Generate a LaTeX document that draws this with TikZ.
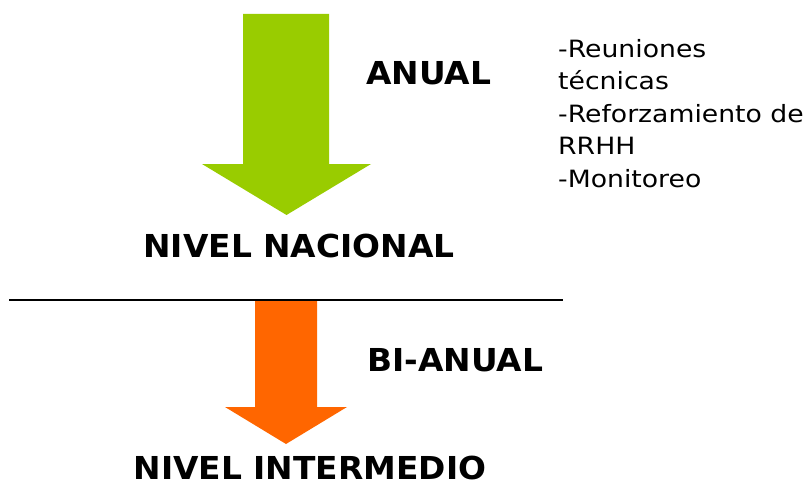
\documentclass[tikz,border=0pt]{standalone}
\usepackage{fontspec}
\newfontfamily\lblfont[FakeStretch=1.04]{DejaVu Sans Bold}
\newfontfamily\listfont[FakeStretch=1.12]{DejaVu Sans}
\definecolor{arrgreen}{HTML}{99CC00}
\definecolor{arrorange}{HTML}{FF6600}
\begin{document}
\begin{tikzpicture}[x=1pt,y=-1pt,
  biglabel/.style={inner sep=0pt,font=\lblfont\fontsize{31.6}{36}\selectfont},
  listitem/.style={inner sep=0pt,anchor=base west,font=\listfont\fontsize{23.8}{30}\selectfont}]
\useasboundingbox (0,0) rectangle (810,487);
% green arrow
\fill[arrgreen] (243,14) -- (329,14) -- (329,164) -- (371,164) -- (286.5,215) -- (202,164) -- (243,164) -- cycle;
% orange arrow
\fill[arrorange] (255,301) -- (317,301) -- (317,407) -- (347,407) -- (286,444) -- (225,407) -- (255,407) -- cycle;
% separator line
\coordinate (ls) at (9,300);
\coordinate (le) at (563,300);
\draw[line width=2pt] (ls) -- (le);
% labels
\node[biglabel,anchor=base west] (anual) at (366,84) {ANUAL};
\node[biglabel,anchor=base] (nacional) at (299,257) {NIVEL NACIONAL};
\node[biglabel,anchor=base west] (bianual) at (367,371) {BI-ANUAL};
\node[biglabel,anchor=base] (intermedio) at (310,479) {NIVEL INTERMEDIO};
% list
\node[listitem] (l1) at (558,57) {-Reuniones};
\node[listitem] (l2) at (558,89.5) {técnicas};
\node[listitem] (l3) at (558,122) {-Reforzamiento de};
\node[listitem] (l4) at (558,154.5) {RRHH};
\node[listitem] (l5) at (558,187) {-Monitoreo};
\end{tikzpicture}
\end{document}
